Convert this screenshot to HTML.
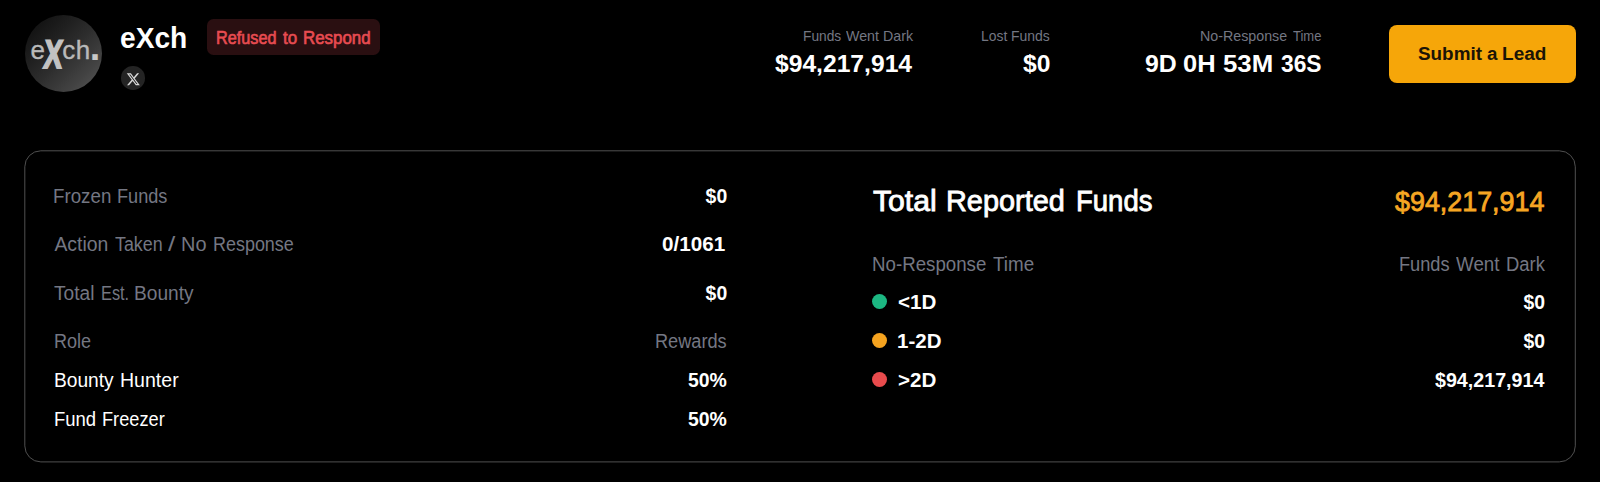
<!DOCTYPE html>
<html lang="en">
<head>
<meta charset="utf-8">
<title>eXch</title>
<style>
  html, body { margin: 0; padding: 0; background: #000; }
  body { width: 1600px; height: 482px; position: relative; overflow: hidden;
         font-family: "Liberation Sans", sans-serif; color: #fff; }
  .t { position: absolute; left: 0; white-space: nowrap; line-height: 1; }
  .t .w { position: absolute; top: 0; transform-origin: 0 0; }

  /* logo */
  .logo { position: absolute; left: 24.5px; top: 15px; width: 77px; height: 77px; border-radius: 50%;
          background: linear-gradient(135deg, #0b0b0b 0%, #1c1c1c 28%, #2d2d2d 52%, #434343 78%, #5a5a5a 100%); }
  .logo .lt { position: absolute; white-space: nowrap; line-height: 1; color: #b9b9b9; font-size: 26px; -webkit-text-stroke: 0.35px #b9b9b9; }
  .logo .lx { position: absolute; white-space: nowrap; line-height: 1; color: #c2c2c2; font-weight: 700; font-size: 40px; }

  .xicon { position: absolute; left: 121px; top: 66.2px; width: 24.2px; height: 23.7px; border-radius: 50%; background: #242424; }
  .xicon svg { position: absolute; left: 4.9px; top: 5.7px; width: 14.6px; height: 14.6px; }

  .badge { position: absolute; left: 206.9px; top: 18.5px; width: 173.1px; height: 36.5px; border-radius: 6.5px; background: #2a0f11; }

  .btn { position: absolute; left: 1389px; top: 25px; width: 187px; height: 57.7px; border-radius: 8px; background: #f6a609; }

  .cardsvg { position: absolute; left: 0; top: 0; pointer-events: none; }

  .dot { position: absolute; width: 15.1px; height: 15.1px; border-radius: 50%; left: 872.4px; }
</style>
</head>
<body>

<!-- ===== header: logo, name, social link, status badge, stats, CTA ===== -->
<header>
<div class="logo">
  <span class="lt" id="l_e" style="left:5.9px; top:22px;">e</span>
  <span class="lx" id="l_x" style="left:15.6px; top:19px; transform: skewX(-5deg) scaleX(0.70); -webkit-text-stroke: 1.8px #c2c2c2;">X</span>
  <span class="lt" id="l_c" style="left:37.8px; top:22px;">c</span>
  <span class="lt" id="l_h" style="left:51.2px; top:22px;">h</span>
  <span class="lt" id="l_dot" style="left:65.2px; top:13px; font-size:38px; font-weight:700; color:#c8c8c8; -webkit-text-stroke:0;">.</span>
</div>
<div class="xicon">
  <svg viewBox="0 0 24 24"><path fill="#d8d8d8" d="M18.244 2.25h3.308l-7.227 8.26 8.502 11.24H16.17l-5.214-6.817L4.99 21.75H1.68l7.73-8.835L1.254 2.25H8.08l4.713 6.231zm-1.161 17.52h1.833L7.084 4.126H5.117z"/></svg>
</div>
<div class="badge"></div>
<div class="btn"></div>
<div class="t" id="title" style="top:24px;font-size:28.6px;font-weight:700;color:#fff;"><span class="w" id="title_0" style="left:120.24px;transform:scaleX(0.9850)">eXch</span></div>
<div class="t" id="badge_t" style="top:29px;font-size:18.0px;font-weight:400;color:#e74c51;-webkit-text-stroke:0.65px #e74c51;"><span class="w" id="badge_t_0" style="left:215.55px;transform:scaleX(0.9026)">Refused</span> <span class="w" id="badge_t_1" style="left:282.97px;transform:scaleX(0.9431)">to</span> <span class="w" id="badge_t_2" style="left:303.20px;transform:scaleX(0.9381)">Respond</span></div>
<div class="t" id="s1l" style="top:29px;font-size:14.1px;font-weight:400;color:#747783;"><span class="w" id="s1l_0" style="left:803.11px;transform:scaleX(0.9751)">Funds</span> <span class="w" id="s1l_1" style="left:846.18px;transform:scaleX(1.0105)">Went</span> <span class="w" id="s1l_2" style="left:883.24px;transform:scaleX(1.0093)">Dark</span></div>
<div class="t" id="s1v" style="top:53px;font-size:23.4px;font-weight:700;color:#fff;"><span class="w" id="s1v_0" style="left:774.98px;transform:scaleX(1.0535)">$94,217,914</span></div>
<div class="t" id="s2l" style="top:29px;font-size:14.1px;font-weight:400;color:#747783;"><span class="w" id="s2l_0" style="left:981.11px;transform:scaleX(0.9872)">Lost</span> <span class="w" id="s2l_1" style="left:1010.81px;transform:scaleX(0.9901)">Funds</span></div>
<div class="t" id="s2v" style="top:53px;font-size:23.4px;font-weight:700;color:#fff;"><span class="w" id="s2v_0" style="left:1022.61px;transform:scaleX(1.0536)">$0</span></div>
<div class="t" id="s3l" style="top:29px;font-size:14.1px;font-weight:400;color:#747783;"><span class="w" id="s3l_0" style="left:1200.04px;transform:scaleX(1.0110)">No-Response</span> <span class="w" id="s3l_1" style="left:1292.91px;transform:scaleX(0.9222)">Time</span></div>
<div class="t" id="s3v" style="top:53px;font-size:23.4px;font-weight:700;color:#fff;"><span class="w" id="s3v_0" style="left:1144.77px;transform:scaleX(1.0619)">9D</span> <span class="w" id="s3v_1" style="left:1183.22px;transform:scaleX(1.0890)">0H</span> <span class="w" id="s3v_2" style="left:1222.92px;transform:scaleX(1.1039)">53M</span> <span class="w" id="s3v_3" style="left:1280.85px;transform:scaleX(0.9753)">36S</span></div>
<div class="t" id="btn_t" style="top:45px;font-size:18.0px;font-weight:700;color:#1b1406;"><span class="w" id="btn_t_0" style="left:1418.00px;transform:scaleX(1.0488)">Submit</span> <span class="w" id="btn_t_1" style="left:1487.14px;transform:scaleX(1.0397)">a</span> <span class="w" id="btn_t_2" style="left:1501.61px;transform:scaleX(1.0581)">Lead</span></div>
</header>

<!-- ===== summary card ===== -->
<main>
<svg class="cardsvg" width="1600" height="482" viewBox="0 0 1600 482"><rect x="24.8" y="150.8" width="1550.5" height="311.1" rx="16" ry="16" fill="none" stroke="#505050" stroke-width="1"/></svg>
<section>
<div class="t" id="r1l" style="top:187px;font-size:19.4px;font-weight:400;color:#747783;"><span class="w" id="r1l_0" style="left:53.29px;transform:scaleX(0.9666)">Frozen</span> <span class="w" id="r1l_1" style="left:117.02px;transform:scaleX(0.9353)">Funds</span></div>
<div class="t" id="r2l" style="top:235px;font-size:19.4px;font-weight:400;color:#747783;"><span class="w" id="r2l_0" style="left:54.40px;transform:scaleX(1.0000)">Action</span> <span class="w" id="r2l_1" style="left:114.83px;transform:scaleX(0.9214)">Taken</span> <span class="w" id="r2l_2" style="left:168.37px;transform:scaleX(1.3447)">/</span> <span class="w" id="r2l_3" style="left:181.04px;transform:scaleX(1.0271)">No</span> <span class="w" id="r2l_4" style="left:212.72px;transform:scaleX(0.9254)">Response</span></div>
<div class="t" id="r3l" style="top:284px;font-size:19.4px;font-weight:400;color:#747783;"><span class="w" id="r3l_0" style="left:54.12px;transform:scaleX(0.9861)">Total</span> <span class="w" id="r3l_1" style="left:100.96px;transform:scaleX(0.8412)">Est.</span> <span class="w" id="r3l_2" style="left:134.09px;transform:scaleX(0.9862)">Bounty</span></div>
<div class="t" id="r4l" style="top:332px;font-size:19.4px;font-weight:400;color:#747783;"><span class="w" id="r4l_0" style="left:53.65px;transform:scaleX(0.9307)">Role</span></div>
<div class="t" id="r5l" style="top:371px;font-size:19.4px;font-weight:400;color:#fff;"><span class="w" id="r5l_0" style="left:53.75px;transform:scaleX(0.9890)">Bounty</span> <span class="w" id="r5l_1" style="left:119.99px;transform:scaleX(1.0078)">Hunter</span></div>
<div class="t" id="r6l" style="top:410px;font-size:19.4px;font-weight:400;color:#fff;"><span class="w" id="r6l_0" style="left:53.75px;transform:scaleX(0.9535)">Fund</span> <span class="w" id="r6l_1" style="left:101.55px;transform:scaleX(0.9389)">Freezer</span></div>
<div class="t" id="r1v" style="top:187px;font-size:19.4px;font-weight:700;color:#fff;"><span class="w" id="r1v_0" style="left:705.60px;transform:scaleX(1.0000)">$0</span></div>
<div class="t" id="r2v" style="top:235px;font-size:19.4px;font-weight:700;color:#fff;"><span class="w" id="r2v_0" style="left:662.18px;transform:scaleX(1.0650)">0/1061</span></div>
<div class="t" id="r3v" style="top:284px;font-size:19.4px;font-weight:700;color:#fff;"><span class="w" id="r3v_0" style="left:705.60px;transform:scaleX(1.0000)">$0</span></div>
<div class="t" id="r4v" style="top:332px;font-size:19.4px;font-weight:400;color:#747783;"><span class="w" id="r4v_0" style="left:655.07px;transform:scaleX(0.9372)">Rewards</span></div>
<div class="t" id="r5v" style="top:371px;font-size:19.4px;font-weight:700;color:#fff;"><span class="w" id="r5v_0" style="left:687.95px;transform:scaleX(1.0012)">50%</span></div>
<div class="t" id="r6v" style="top:410px;font-size:19.4px;font-weight:700;color:#fff;"><span class="w" id="r6v_0" style="left:687.95px;transform:scaleX(1.0012)">50%</span></div>
</section>
<section>
<div class="dot" style="top:294.4px; background:#1cb782;"></div>
<div class="dot" style="top:333.4px; background:#f5a31f;"></div>
<div class="dot" style="top:372.0px; background:#e84b4d;"></div>
<div class="t" id="p_title" style="top:187px;font-size:28.6px;font-weight:400;color:#fff;-webkit-text-stroke:0.8px #fff;"><span class="w" id="p_title_0" style="left:872.76px;transform:scaleX(1.0542)">Total</span> <span class="w" id="p_title_1" style="left:945.93px;transform:scaleX(1.0099)">Reported</span> <span class="w" id="p_title_2" style="left:1076.39px;transform:scaleX(0.9622)">Funds</span></div>
<div class="t" id="p_total" style="top:188px;font-size:28.0px;font-weight:400;color:#f6a623;-webkit-text-stroke:0.8px #f6a623;"><span class="w" id="p_total_0" style="left:1395.48px;transform:scaleX(0.9594)">$94,217,914</span></div>
<div class="t" id="p_h1" style="top:255px;font-size:19.4px;font-weight:400;color:#747783;"><span class="w" id="p_h1_0" style="left:872.06px;transform:scaleX(0.9643)">No-Response</span> <span class="w" id="p_h1_1" style="left:993.45px;transform:scaleX(0.9701)">Time</span></div>
<div class="t" id="p_h2" style="top:255px;font-size:19.4px;font-weight:400;color:#747783;"><span class="w" id="p_h2_0" style="left:1399.09px;transform:scaleX(0.9385)">Funds</span> <span class="w" id="p_h2_1" style="left:1455.80px;transform:scaleX(0.9680)">Went</span> <span class="w" id="p_h2_2" style="left:1506.09px;transform:scaleX(0.9505)">Dark</span></div>
<div class="t" id="p1l" style="top:293px;font-size:19.4px;font-weight:700;color:#fff;"><span class="w" id="p1l_0" style="left:897.62px;transform:scaleX(1.0620)">&lt;1D</span></div>
<div class="t" id="p2l" style="top:332px;font-size:19.4px;font-weight:700;color:#fff;"><span class="w" id="p2l_0" style="left:896.77px;transform:scaleX(1.0571)">1-2D</span></div>
<div class="t" id="p3l" style="top:371px;font-size:19.4px;font-weight:700;color:#fff;"><span class="w" id="p3l_0" style="left:897.62px;transform:scaleX(1.0620)">&gt;2D</span></div>
<div class="t" id="p1v" style="top:293px;font-size:19.4px;font-weight:700;color:#fff;"><span class="w" id="p1v_0" style="left:1523.50px;transform:scaleX(1.0000)">$0</span></div>
<div class="t" id="p2v" style="top:332px;font-size:19.4px;font-weight:700;color:#fff;"><span class="w" id="p2v_0" style="left:1523.50px;transform:scaleX(1.0000)">$0</span></div>
<div class="t" id="p3v" style="top:371px;font-size:19.4px;font-weight:700;color:#fff;"><span class="w" id="p3v_0" style="left:1434.75px;transform:scaleX(1.0138)">$94,217,914</span></div>
</section>
</main>

</body>
</html>
